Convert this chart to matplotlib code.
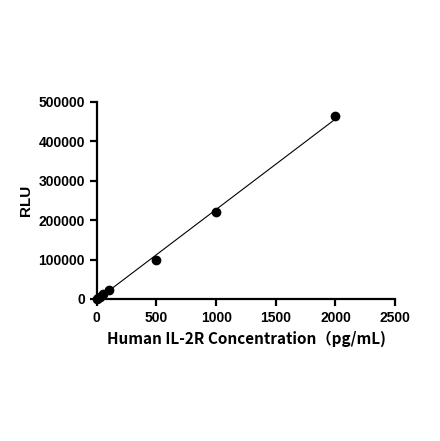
import numpy as np
import matplotlib.pyplot as plt

conc = np.array([0, 12.5, 25, 50, 100, 500, 1000, 2000])
rlu = np.array([500, 3000, 6000, 12000, 23000, 100000, 220000, 463000])

plt.rcParams.update({"font.family": "Liberation Sans", "font.weight": "bold"})
fig = plt.figure(figsize=(4.4, 4.41), dpi=100)
ax = fig.add_axes([0.22, 0.322, 0.678, 0.447])

slope, icpt = np.polyfit(conc, rlu, 1)
xl = np.array([0, conc.max()])
ax.plot(xl, slope * xl + icpt, color="black", lw=0.8, zorder=2)
ax.scatter(conc, rlu, s=36, color="black", zorder=3, clip_on=False)

ax.set_xlim(0, 2500)
ax.set_ylim(0, 500000)
ax.set_xticks(range(0, 2501, 500))
ax.set_yticks(range(0, 500001, 100000))
for s in ["top", "right"]:
    ax.spines[s].set_visible(False)
for s in ["left", "bottom"]:
    ax.spines[s].set_linewidth(1.6)
ax.tick_params(width=1.6, length=5, labelsize=10)
for lab in ax.get_xticklabels() + ax.get_yticklabels():
    lab.set_fontweight("bold")
ax.set_xlabel("Human IL-2R Concentration\uff08pg/mL)", fontsize=11, fontweight="bold",
              family=["Noto Sans CJK SC", "Liberation Sans"])
ax.set_ylabel("RLU", fontsize=11, fontweight="bold")

fig.savefig("out.png", dpi=100, facecolor="white")
